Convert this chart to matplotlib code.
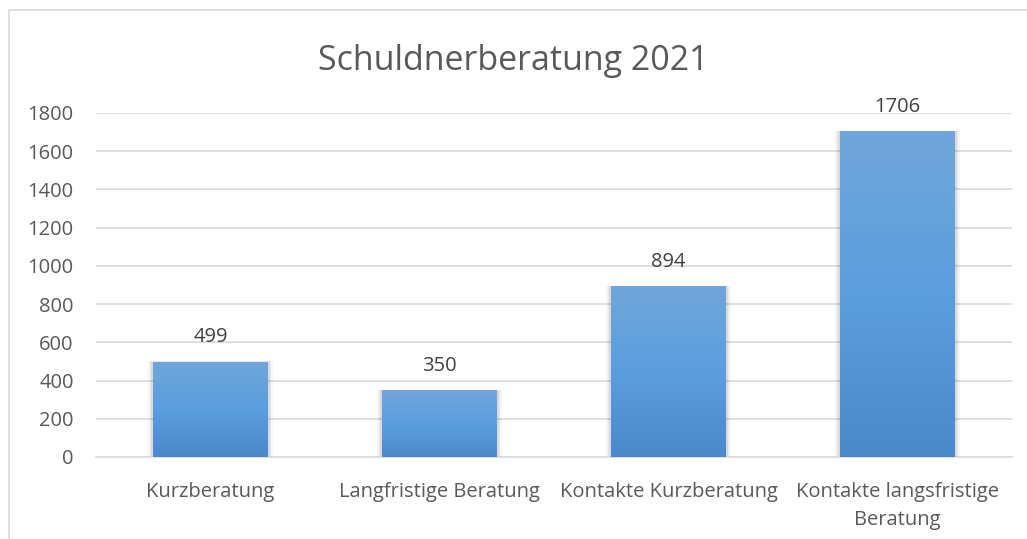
import numpy as np
import matplotlib
matplotlib.use("Agg")
import matplotlib.pyplot as plt
from matplotlib.patches import Rectangle
from matplotlib.colors import LinearSegmentedColormap

plt.rcParams["font.family"] = ["Open Sans", "DejaVu Sans"]

title = "Schuldnerberatung 2021"
categories = ["Kurzberatung", "Langfristige Beratung", "Kontakte Kurzberatung",
              "Kontakte langsfristige\nBeratung"]
values = [499, 350, 894, 1706]
yticks = [0, 200, 400, 600, 800, 1000, 1200, 1400, 1600, 1800]

W, H = 1027, 539
fig = plt.figure(figsize=(W / 100, H / 100), dpi=100)
ax = fig.add_axes([96 / W, 1 - 457 / H, (1012 - 96) / W, (457 - 113) / H])

# outer chart frame (left/top visible)
frame = Rectangle((9 / W, -0.05), 1.2, 1 - 10 / H + 0.05, transform=fig.transFigure,
                  fill=False, edgecolor="#d9d9d9", lw=1.2, zorder=0)
fig.patches.append(frame)

ax.set_yticks(yticks)
ax.yaxis.grid(True, color="#d9d9d9", lw=1.2)
ax.set_axisbelow(True)
for s in ["top", "right", "left"]:
    ax.spines[s].set_visible(False)
ax.spines["bottom"].set_color("#d9d9d9")
ax.spines["bottom"].set_linewidth(1.2)
ax.tick_params(length=0, labelsize=14.5, colors="#595959")
ax.tick_params(axis="y", pad=16)
ax.tick_params(axis="x", pad=18)
ax.set_xticks(range(len(categories)))
ax.set_xticklabels(categories, linespacing=1.5, fontsize=14.5)

cmap = LinearSegmentedColormap.from_list("bar", ["#4a89cb", "#5b9ee0", "#70a6da"])
grad = np.linspace(0, 1, 256).reshape(-1, 1)
width = 0.5
for i, v in enumerate(values):
    # soft shadow
    for k, a in enumerate([0.06, 0.05, 0.04]):
        d = 0.008 * (k + 1)
        ax.add_patch(Rectangle((i - width / 2 - d, -5), width + 2 * d, v + 5 + d * 60,
                               color="black", alpha=a, lw=0, zorder=2))
    bar = ax.bar(i, v, width=width, color="none", zorder=3)[0]
    im = ax.imshow(grad, cmap=cmap, aspect="auto", origin="lower",
                   extent=[i - width / 2, i + width / 2, 0, v], zorder=3)
    im.set_clip_path(bar)
    ax.text(i, v + 75, str(v), ha="center", va="bottom", fontsize=14.5, color="#404040")

ax.set_xlim(-0.5, len(categories) - 0.5)
ax.set_ylim(0, 1800)
fig.text(0.5, 1 - 61 / H, title, ha="center", va="center", fontsize=24.5, color="#595959")

fig.savefig("out.png", dpi=100)
